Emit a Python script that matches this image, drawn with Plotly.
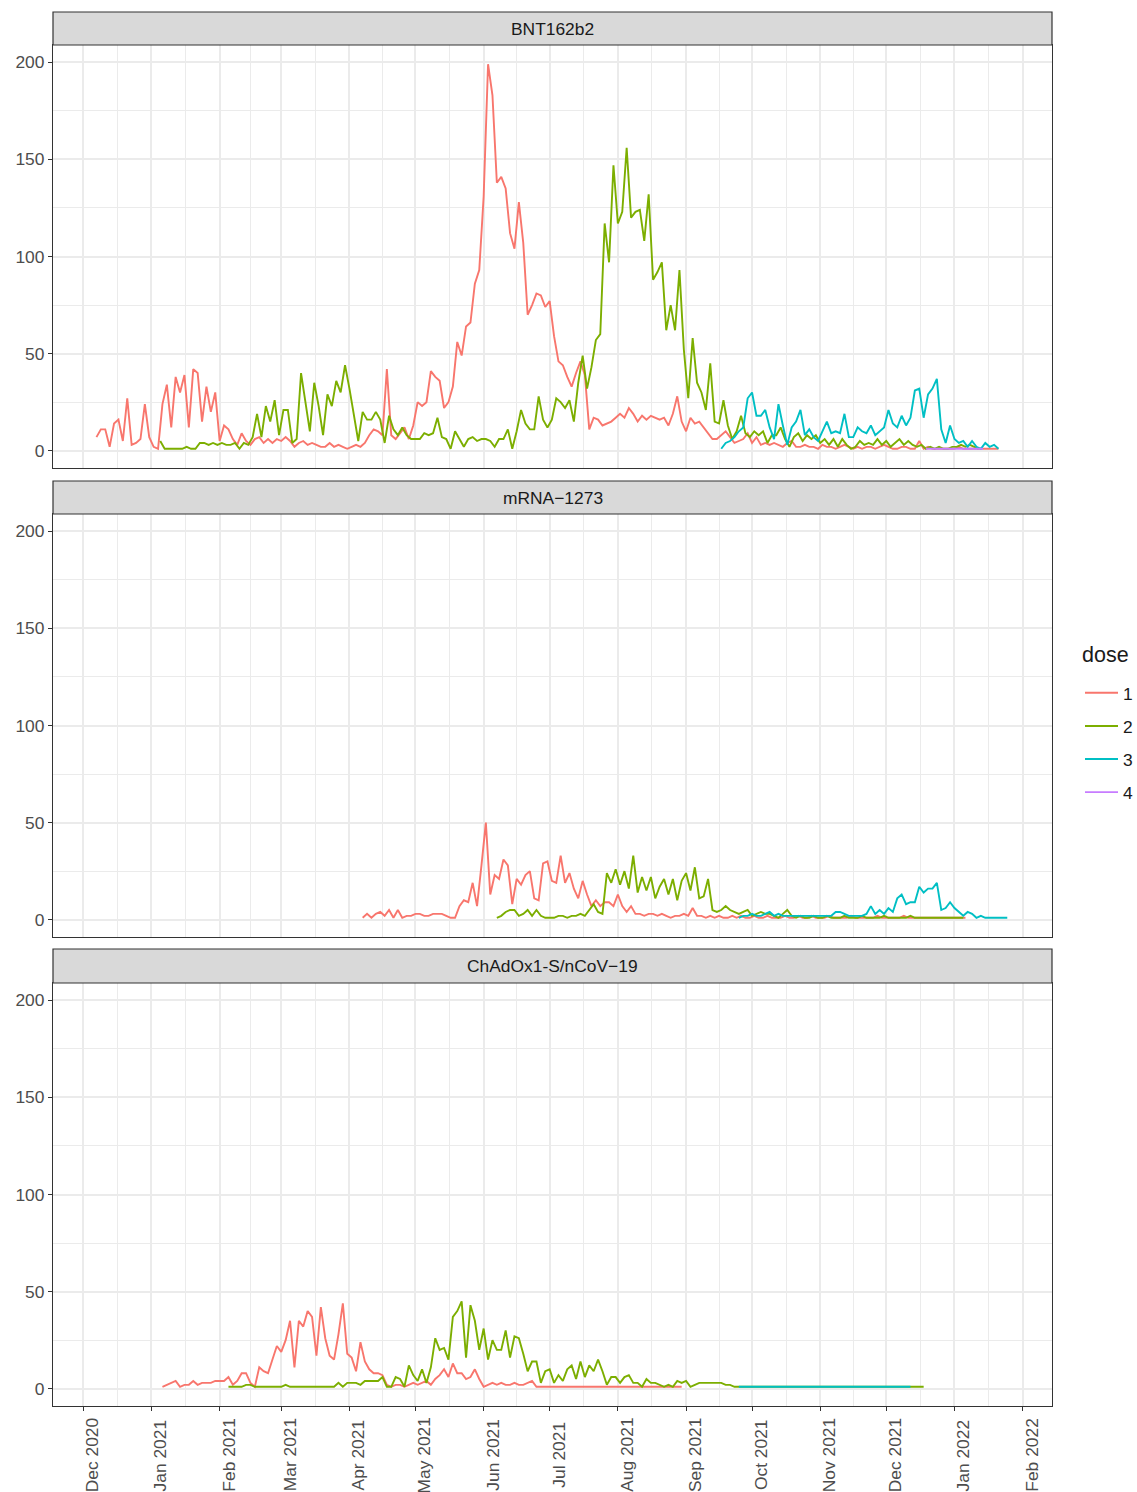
import pandas as pd
import plotly.graph_objects as go

# ---------------- data (2-day sampling, counts per day) ----------------
vaccines = ["BNT162b2", "mRNA\u22121273", "ChAdOx1-S/nCoV\u221219"]
doses = ["1", "2", "3", "4"]
colors = {"1": "#F8766D", "2": "#7CAE00", "3": "#00BFC4", "4": "#C77CFF"}

bnt_d1_start = "2020-12-07"
bnt_d1 = [7, 11, 11, 2, 14, 16, 5, 27, 3, 4, 6, 24, 7, 2, 1, 24, 34, 12, 38, 30,
          39, 12, 42, 40, 15, 33, 20, 30, 5, 13, 11, 6, 3, 9, 5, 3, 6, 7, 4, 6,
          4, 6, 5, 7, 5, 2, 4, 5, 3, 4, 3, 2, 2, 4, 2, 3, 2, 1, 2, 3,
          2, 4, 8, 11, 10, 8,
          42, 8, 6, 9, 12, 6, 13, 25, 23, 25, 41, 38, 36, 22, 25, 33, 56, 49, 64, 66,
          86, 93, 131, 199, 183, 138, 141, 135, 112, 104, 128, 107, 70, 75, 81, 80, 74, 77, 59, 46,
          44, 38, 33, 40, 46, 39, 11, 17, 16, 13, 14, 15, 17, 19, 17, 22, 19, 15, 18, 16,
          18, 17, 16, 17, 13, 19, 28, 15, 10, 17, 14, 15, 12, 9, 6, 6, 8, 10, 7, 4,
          5, 6, 9, 4, 7, 3, 4, 3, 4, 3, 2, 4, 5, 2, 2,
          3, 2, 2, 1, 3, 2, 2, 1, 2, 3, 2, 1, 2, 1, 2, 2, 1, 2, 3, 2,
          1, 1, 2, 2, 1, 1, 5, 1, 2, 1, 1, 1, 1, 1, 1, 2, 1, 1, 1, 1,
          1, 1, 1, 1, 1]

bnt_d2_start = "2021-01-05"
bnt_d2 = [5, 1, 1, 1, 1, 1, 2, 1, 1, 4, 4, 3, 4, 3, 4, 3, 3, 4, 1, 4,
          3, 7, 19, 7, 23, 15, 26, 8, 21, 21, 4, 6, 40, 24, 10, 35, 23, 8, 29, 23,
          36, 30, 44, 32, 18, 5, 20, 16, 16, 20, 16, 4, 18, 11, 8, 12, 8, 6, 6, 6,
          9, 8, 9, 17, 7, 6, 1, 10, 6, 2, 6, 7, 5, 6, 6, 5, 2, 6, 6, 11,
          1, 10, 21, 14, 11, 11, 28, 16, 12, 16, 27, 25, 22, 26, 15, 35, 49, 32, 43, 57,
          60, 117, 97, 147, 117, 123, 156, 120, 123, 124, 108, 132, 88, 92, 97, 62, 75, 62, 93, 52,
          27, 58, 35, 30, 21, 45, 15, 14, 26, 13, 6, 10, 18, 9, 7, 10, 8, 10, 4, 8,
          8, 12, 6, 2, 7, 9, 5, 8, 6, 8, 4, 6, 3, 6, 2, 6, 3, 1, 2, 5,
          3, 4, 3, 6, 3, 5, 2, 4, 6, 3, 5, 3, 2, 3, 1, 2, 1, 2, 1, 1,
          2, 2, 3, 2, 3, 2, 1]

bnt_d3_start = "2021-09-17"
bnt_d3 = [1, 4, 5, 7, 10, 12, 27, 30, 18, 18, 21, 12, 6, 24, 13, 3, 12, 15, 21, 8,
          11, 7, 5, 10, 15, 9, 10, 9, 19, 7, 7, 12, 10, 9, 13, 8, 10, 12, 21, 14,
          12, 18, 13, 17, 31, 32, 17, 29, 32, 37, 11, 4, 13, 6, 4, 5, 2, 5, 2, 1,
          4, 2, 3, 1]

bnt_d4_start = "2021-12-19"
bnt_d4 = [1, 1, 1, 1, 1, 1, 1, 1, 1, 1, 1, 1, 1, 1]

mrna_d1_start = "2021-04-07"
mrna_d1 = [1, 3, 1, 3, 4, 2, 5, 1, 5, 1, 2, 2, 3, 3, 2, 2, 3, 3, 3, 2,
           1, 1, 7, 10, 9, 19, 7, 28, 50, 13, 23, 21, 31, 28, 8, 21, 18, 23, 25, 11,
           10, 29, 30, 20, 19, 33, 19, 24, 16, 11, 20, 13, 7, 10, 7, 9, 9, 7, 13, 7,
           4, 7, 3, 3, 2, 3, 3, 2, 3, 2, 1, 2, 2, 3, 2, 6, 2, 2, 1,
           2, 1, 2, 1, 1, 2, 1, 2, 1, 1, 2, 1, 1, 2, 1, 1, 1, 2, 1, 1,
           2, 1, 1, 2, 1, 1, 1, 2, 1, 1, 1, 1, 2, 1, 1, 1, 1, 1, 2, 1,
           1, 1, 1, 1, 2, 1, 1, 1, 1, 1, 1, 1, 1, 1, 1, 1, 1, 1, 1]

mrna_d2_start = "2021-06-07"
mrna_d2 = [1, 2, 4, 5, 5, 2, 3, 5, 2, 5, 2, 1, 1, 1, 2, 2, 1, 2, 2, 3,
           2, 5, 8, 4, 3, 24, 19, 26, 18, 25, 16, 33, 14, 22, 15, 22, 11, 17, 21, 13,
           21, 10, 20, 24, 15, 27, 11, 12, 21, 5, 4, 5, 7, 5, 4, 3, 4, 5, 2, 3,
           4, 3, 3, 2, 1, 3, 5, 2, 1,
           2, 1, 1, 2, 1, 1, 2, 1, 1, 1, 2, 1, 1, 1, 2, 1, 1, 1, 1, 2,
           1, 1, 1, 1, 1, 2, 1, 1, 1, 1, 1, 1, 1, 1, 1, 1, 1, 1]

mrna_d3_start = "2021-09-25"
mrna_d3 = [1, 2, 2, 3, 2, 2, 3, 4, 2, 3, 2, 2, 2, 2, 2, 2, 2, 2, 2, 2,
           2, 2, 4, 4, 3, 2, 2, 2, 2, 3, 7, 3, 5, 3, 6, 4, 11, 13, 8, 9,
           9, 17, 14, 16, 16, 19, 5, 6, 9, 6, 4, 2, 4, 3, 1, 2, 1, 1, 1, 1,
           1, 1]

chad_d1_start = "2021-01-06"
chad_d1 = [1, 2, 3, 4, 1, 2, 2, 4, 2, 3, 3, 3, 4, 4, 4, 6, 2, 4, 8, 8,
           3, 1, 11, 9, 8, 15, 22, 19, 25, 35, 11, 35, 32, 40, 37, 17, 42, 26, 17, 15,
           28, 44, 18, 16, 9, 24, 14, 10, 8, 8, 7, 2, 1, 2, 2, 1, 2, 3, 2, 3,
           4, 2, 5, 7, 10, 6, 13, 8, 8, 5, 6, 10, 5, 1, 2, 3, 2, 3, 2, 2,
           3, 2, 2, 3, 4, 1,
           1, 1, 1, 1, 1, 1, 1, 1, 1, 1, 1, 1, 1, 1, 1, 1, 1, 1, 1, 1,
           1, 1, 1, 1, 1, 1, 1, 1, 1, 1, 1, 1, 1]

chad_d2_start = "2021-02-05"
chad_d2 = [1, 1, 1, 1, 2, 2, 1, 1, 1, 1, 1, 1, 1, 2, 1, 1, 1, 1, 1, 1,
           1, 1, 1, 1, 1, 3, 1, 3, 3, 3, 2, 4, 4, 4, 4, 6, 1, 1, 6, 5,
           1, 12, 7, 4, 10, 3, 11, 26, 20, 21, 15, 37, 40, 45, 16, 43, 35, 20, 31, 15,
           25, 20, 20, 30, 16, 27, 26, 18, 9, 14, 14, 3, 9, 10, 3, 7, 4, 10, 12, 5,
           14, 6, 12, 9, 15, 9, 2, 6, 6, 3, 6, 7, 3, 3, 1, 5, 3, 3, 2, 1,
           2, 1, 4, 3, 4, 1, 2, 3, 3, 3, 3, 3, 3, 2, 2, 1,
           1, 1, 1, 1, 1, 1, 1, 1, 1, 1, 1, 1, 1, 1, 1, 1, 1, 1, 1, 1,
           1, 1, 1, 1, 1, 1, 1, 1, 1, 1, 1, 1, 1, 1, 1, 1, 1, 1, 1, 1,
           1, 1, 1]

chad_d3_start = "2021-09-25"
chad_d3 = [1, 1, 1, 1, 1, 1, 1, 1, 1, 1, 1, 1, 1, 1, 1, 1, 1, 1, 1, 1,
           1, 1, 1, 1, 1, 1, 1, 1, 1, 1, 1, 1, 1, 1, 1, 1, 1, 1, 1, 1]

series = {
    0: [("1", bnt_d1_start, bnt_d1), ("2", bnt_d2_start, bnt_d2),
        ("3", bnt_d3_start, bnt_d3), ("4", bnt_d4_start, bnt_d4)],
    1: [("1", mrna_d1_start, mrna_d1), ("2", mrna_d2_start, mrna_d2),
        ("3", mrna_d3_start, mrna_d3)],
    2: [("1", chad_d1_start, chad_d1), ("2", chad_d2_start, chad_d2),
        ("3", chad_d3_start, chad_d3)],
}

y_ticks = [0, 50, 100, 150, 200]
y_minor = [25, 75, 125, 175]
x_range = ["2020-11-17 06:00", "2022-02-14 08:00"]
y_range = [-8.9, 208.9]

# ---------------- layout geometry ----------------
FONT = "Liberation Sans, Arial, sans-serif"
W, H = 1137, 1492
H_TOP, H_BOT, M_L, M_R = 12, 86, 53, 85
PH = H - H_TOP - H_BOT
PW = W - M_L - M_R


def py(px):  # pixel row -> paper y
    return (H - H_BOT - px) / PH


def pxx(px):  # pixel column -> paper x
    return (px - M_L) / PW


panel_dom = [[py(468), py(45)], [py(937), py(514)], [0.0, py(983)]]
strip_dom = [[py(45), 1.0], [py(514), py(481)], [py(983), py(949)]]

TICK_SIZE = 17.4
months = pd.date_range("2020-12-01", "2022-02-01", freq="MS")
month_labels = [m.strftime("%b %Y") for m in months]
mids = [months[i] + (months[i + 1] - months[i]) / 2 for i in range(len(months) - 1)]
mids = [months[0] - (months[1] - months[0]) / 2] + mids

fig = go.Figure()
for p in range(3):
    ax = "" if p == 0 else str(p + 1)
    for dose, start, vals in series[p]:
        dates = pd.date_range(start, periods=len(vals), freq="2D")
        fig.add_trace(go.Scatter(
            x=dates, y=vals, mode="lines", name=dose,
            line=dict(color=colors[dose], width=1.9),
            xaxis="x" + ax, yaxis="y" + ax,
            legendgroup=dose, showlegend=(p == 0),
            hoverinfo="skip"))

grid = "#EBEBEB"
for p in range(3):
    ax = "" if p == 0 else str(p + 1)
    bottom = (p == 2)
    fig.layout["xaxis" + ax] = dict(
        domain=[0, 1], anchor="y" + ax, type="date", range=x_range,
        tickvals=list(months), ticktext=month_labels,
        showticklabels=False,
        ticks="outside" if bottom else "", ticklen=4, tickwidth=1.1, tickcolor="#333333",
        showgrid=True, gridcolor=grid, gridwidth=1.5,
        minor=dict(tickvals=list(mids), showgrid=True, gridcolor=grid, gridwidth=0.8, ticks=""),
        showline=True, mirror=True, linecolor="#333333", linewidth=1.2,
        zeroline=False)
    fig.layout["yaxis" + ax] = dict(
        domain=panel_dom[p], anchor="x" + ax, range=y_range,
        tickvals=y_ticks, ticktext=[str(v) for v in y_ticks],
        ticks="outside", ticklen=4, tickwidth=1.1, tickcolor="#333333",
        tickfont=dict(family=FONT, size=TICK_SIZE, color="#4D4D4D"),
        showgrid=True, gridcolor=grid, gridwidth=1.5,
        minor=dict(tickvals=y_minor, showgrid=True, gridcolor=grid, gridwidth=0.8, ticks=""),
        showline=True, mirror=True, linecolor="#333333", linewidth=1.2,
        zeroline=False)

shapes = []
annotations = []
for p in range(3):
    shapes.append(dict(type="rect", xref="paper", yref="paper", x0=0, x1=1,
                       y0=strip_dom[p][0], y1=strip_dom[p][1],
                       fillcolor="#D9D9D9", line=dict(color="#333333", width=1.2), layer="above"))
    annotations.append(dict(xref="paper", yref="paper", x=0.5,
                            y=(strip_dom[p][0] + strip_dom[p][1]) / 2,
                            text=vaccines[p], showarrow=False,
                            font=dict(family=FONT, size=TICK_SIZE, color="#1A1A1A"),
                            xanchor="center", yanchor="middle"))

# x tick labels (rotated) for the bottom panel
for m, lab in zip(months, month_labels):
    annotations.append(dict(x=m, xref="x3", y=py(1455), yref="paper", text=lab,
                            textangle=-90, showarrow=False, xanchor="left", yanchor="middle",
                            font=dict(family=FONT, size=TICK_SIZE, color="#4D4D4D"),
                            xshift=-2, borderpad=0))

# legend title
annotations.append(dict(x=pxx(1080), y=py(655), xref="paper", yref="paper", text="dose",
                        showarrow=False, xanchor="left", yanchor="middle",
                        font=dict(family=FONT, size=21.5, color="#1A1A1A")))

fig.update_layout(
    width=W, height=H,
    margin=dict(l=M_L, r=M_R, t=H_TOP, b=H_BOT, autoexpand=False),
    paper_bgcolor="white", plot_bgcolor="white",
    font=dict(family=FONT, color="#1A1A1A"),
    shapes=shapes, annotations=annotations,
    showlegend=True,
    legend=dict(font=dict(family=FONT, size=TICK_SIZE, color="#1A1A1A"),
                x=pxx(1080), xanchor="left", y=py(675), yanchor="top",
                tracegroupgap=7.5, itemwidth=33, bgcolor="rgba(0,0,0,0)"),
)

fig.write_html("out.html",
               config={"displayModeBar": False},
               post_script="document.body.style.margin='0px';document.body.style.padding='0px';")
